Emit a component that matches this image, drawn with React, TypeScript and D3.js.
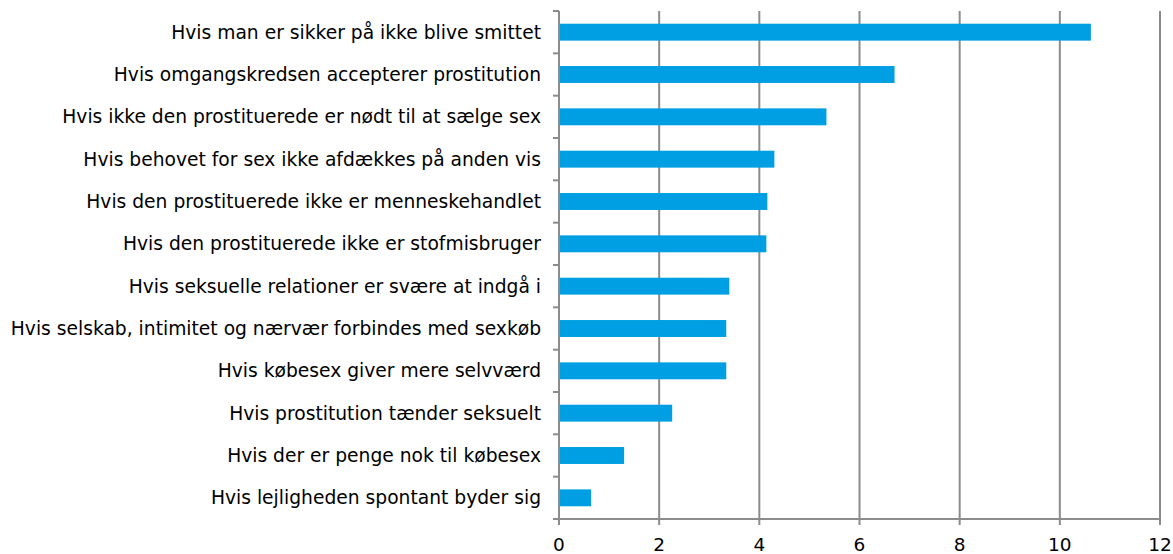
import React from 'react';
import * as d3 from 'd3';

const categories = [
  'Hvis man er sikker på ikke blive smittet',
  'Hvis omgangskredsen accepterer prostitution',
  'Hvis ikke den prostituerede er nødt til at sælge sex',
  'Hvis behovet for sex ikke afdækkes på anden vis',
  'Hvis den prostituerede ikke er menneskehandlet',
  'Hvis den prostituerede ikke er stofmisbruger',
  'Hvis seksuelle relationer er svære at indgå i',
  'Hvis selskab, intimitet og nærvær forbindes med sexkøb',
  'Hvis købesex giver mere selvværd',
  'Hvis prostitution tænder seksuelt',
  'Hvis der er penge nok til købesex',
  'Hvis lejligheden spontant byder sig',
];
const values = [10.62, 6.7, 5.34, 4.3, 4.16, 4.14, 3.4, 3.34, 3.34, 2.26, 1.3, 0.64];
const xTicks = [0, 2, 4, 6, 8, 10, 12];

const W = 1173;
const H = 554;
const margin = { top: 11, right: 13, bottom: 35, left: 559 };
const font = 'Verdana, "DejaVu Sans", sans-serif';
const gray = '#8c8c8c';

export default function App() {
  const x = d3.scaleLinear().domain([0, 12]).range([margin.left, W - margin.right]);
  const y = d3
    .scaleBand<string>()
    .domain(categories)
    .range([margin.top, H - margin.bottom])
    .paddingInner(0.6)
    .paddingOuter(0.3);
  const step = y.step();
  const bottom = H - margin.bottom;
  const boundaries = d3.range(categories.length + 1).map(i => margin.top + i * step);

  return (
    <div style={{ position: 'absolute', left: 0, top: 0 }}>
      <svg width={W} height={H} style={{ display: 'block', background: '#fff' }}>
        {xTicks.slice(1).map(t => (
          <line key={'g' + t} x1={x(t)} x2={x(t)} y1={margin.top} y2={bottom} stroke={gray} strokeWidth={2} />
        ))}
        {categories.map((c, i) => (
          <rect
            key={c}
            x={x(0)}
            y={y(c)}
            width={x(values[i]) - x(0)}
            height={y.bandwidth()}
            fill="#009fe3"
          />
        ))}
        <line x1={x(0)} x2={x(12)} y1={bottom} y2={bottom} stroke={gray} strokeWidth={2} />
        {xTicks.map(t => (
          <g key={'t' + t}>
            <line x1={x(t)} x2={x(t)} y1={bottom} y2={bottom + 6} stroke={gray} strokeWidth={2} />
            <text x={x(t)} y={bottom + 32} textAnchor="middle" fontFamily={font} fontSize={18.5} fill="#000">
              {t}
            </text>
          </g>
        ))}
        <line x1={x(0)} x2={x(0)} y1={margin.top} y2={bottom + 6} stroke={gray} strokeWidth={2} />
        {boundaries.map((b, i) => (
          <line key={'b' + i} x1={x(0) - 6} x2={x(0)} y1={b} y2={b} stroke={gray} strokeWidth={2} />
        ))}
        {categories.map(c => (
          <text
            key={'l' + c}
            x={x(0) - 18}
            y={(y(c) as number) + y.bandwidth() / 2}
            dy="0.35em"
            textAnchor="end"
            fontFamily={font}
            fontSize={18.7}
            fill="#000"
          >
            {c}
          </text>
        ))}
      </svg>
    </div>
  );
}
